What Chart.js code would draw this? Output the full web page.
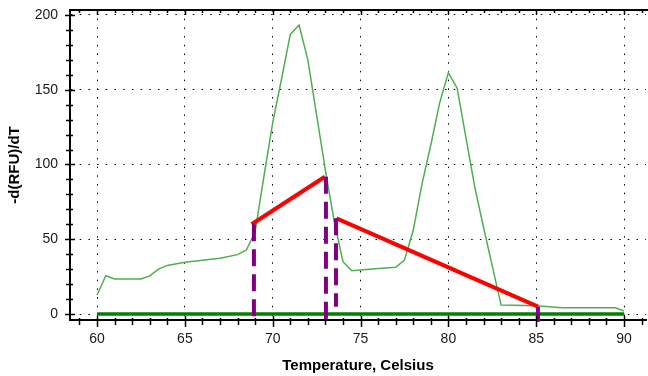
<!DOCTYPE html>
<html>
<head>
<meta charset="utf-8">
<script src="https://cdn.jsdelivr.net/npm/chart.js@4.4.1/dist/chart.umd.min.js"></script>
<style>
  html, body { margin: 0; padding: 0; background: #fff; }
  #wrap { width: 648px; height: 376px; }
</style>
</head>
<body>
<div id="wrap"><canvas id="melt" width="648" height="376"></canvas></div>
<script>
// melt curve
const tempC = [60.0, 60.5, 61.0, 62.5, 63.0, 63.5, 64.0, 65.0, 66.0, 67.0, 68.0, 68.5, 69.0, 69.5, 70.0, 70.5, 71.0, 71.5, 72.0, 72.5, 73.0, 73.5, 74.0, 74.5, 75.0, 76.0, 77.0, 77.5, 78.0, 78.5, 79.0, 79.5, 80.0, 80.5, 81.0, 81.5, 82.0, 82.5, 83.0, 85.0, 86.5, 89.5, 90.0];
const dRFU  = [12.7, 25.6, 23.4, 23.4, 25.5, 30, 32.5, 34.6, 36, 37.3, 39.7, 42.8, 55, 92, 128, 157, 187, 193.3, 170, 133, 96, 62, 35, 29, 29.5, 30.5, 31.2, 36, 56, 87, 113, 141, 161.4, 151, 118, 85, 58, 32, 6, 5.5, 4.2, 4.2, 2];

const baseX = [60, 90];
const baseY = [0, 0];

// red slope lines
const slope1X = [68.8, 72.97];
const slope1Y = [60, 91.8];
const slope2X = [73.63, 85.1];
const slope2Y = [64, 4.9];

// purple drop lines
const dropX   = [68.93, 73.03, 73.6, 85.1];
const dropTop = [60, 91.8, 64, 4.9];
const dropBot = [-5.2, -5.2, 4.9, -5.2];

const xTicks = [60, 65, 70, 75, 80, 85, 90];
const yTicks = [0, 50, 100, 150, 200];

const pts = (xs, ys) => xs.map((x, i) => ({ x: x, y: ys[i] }));

Chart.defaults.font.family = "'Liberation Sans', Arial, sans-serif";

const datasets = [
  { data: pts(tempC, dRFU), borderColor: '#4fae4f', borderWidth: 1.5, order: 5 },
  { data: pts(baseX, baseY), borderColor: '#007f00', borderWidth: 3.5, order: 4 },
  { data: pts(slope1X, slope1Y), borderColor: '#ff0000', borderWidth: 4, order: 2 },
  { data: pts(slope2X, slope2Y), borderColor: '#ff0000', borderWidth: 4, order: 2 }
];
dropX.forEach((x, i) => {
  datasets.push({
    data: [{ x: x, y: dropTop[i] }, { x: x, y: dropBot[i] }],
    borderColor: '#800080',
    borderWidth: 4,
    borderDash: [17, 8],
    clip: false,
    order: 1
  });
});

// tick marks + top border like the original plot
const axisMarks = {
  id: 'axisMarks',
  afterDraw(chart) {
    const { ctx, chartArea: a, scales: { x, y } } = chart;
    ctx.save();
    ctx.strokeStyle = '#000';
    ctx.lineWidth = 1.5;
    ctx.beginPath();
    for (let v = 59; v <= 91; v++) {
      const px = Math.round(x.getPixelForValue(v)) + 0.5;
      const major = v % 5 === 0;
      ctx.moveTo(px, a.bottom - (major ? 4 : 2));
      ctx.lineTo(px, a.bottom + (major ? 7 : 5));
      ctx.moveTo(px, a.top);
      ctx.lineTo(px, a.top + (major ? 5 : 3));
    }
    for (let v = 0; v <= 200; v += 10) {
      const py = Math.round(y.getPixelForValue(v)) + 0.5;
      const major = v % 50 === 0;
      ctx.moveTo(a.left - (major ? 5 : 4), py);
      ctx.lineTo(a.left + (major ? 5 : 3), py);
    }
    ctx.stroke();
    ctx.lineWidth = 2;
    ctx.beginPath();
    ctx.moveTo(a.left, a.top);
    ctx.lineTo(chart.width, a.top);
    ctx.stroke();
    ctx.restore();
  }
};

const noPad = s => {
  s.paddingTop = 0;
  s.paddingBottom = 0;
  s.paddingLeft = 0;
  s.paddingRight = 0;
};

new Chart(document.getElementById('melt'), {
  type: 'line',
  data: { datasets: datasets },
  options: {
    responsive: false,
    animation: false,
    events: [],
    layout: { autoPadding: false, padding: { top: 10, right: 2, left: 0, bottom: 0 } },
    elements: { point: { radius: 0 }, line: { tension: 0, fill: false } },
    plugins: { legend: { display: false }, tooltip: { enabled: false } },
    scales: {
      x: {
        type: 'linear',
        min: 58.46,
        max: 91.25,
        afterBuildTicks: s => { s.ticks = xTicks.map(v => ({ value: v })); },
        afterFit: s => { s.height = 56; noPad(s); },
        grid: { color: '#000', lineWidth: 1, drawTicks: false },
        border: { display: true, color: '#000', width: 2, dash: [1.5, 7.2] },
        ticks: { color: '#1a1a1a', font: { size: 14 }, padding: 11, maxRotation: 0 },
        title: {
          display: true,
          text: 'Temperature, Celsius',
          color: '#000',
          font: { size: 15, weight: 'bold' },
          padding: { top: 0, bottom: 1 }
        }
      },
      y: {
        min: -4,
        max: 203.3,
        afterBuildTicks: s => { s.ticks = yTicks.map(v => ({ value: v })); },
        afterFit: s => { s.width = 70; noPad(s); },
        grid: { color: '#000', lineWidth: 1, drawTicks: false },
        border: { display: true, color: '#000', width: 2, dash: [1.5, 7.2] },
        ticks: { color: '#1a1a1a', font: { size: 14 }, padding: 12 },
        title: {
          display: true,
          text: '-d(RFU)/dT',
          color: '#000',
          font: { size: 15, weight: 'bold' },
          padding: { top: 6, bottom: 0 }
        }
      }
    }
  },
  plugins: [axisMarks]
});
</script>
</body>
</html>
